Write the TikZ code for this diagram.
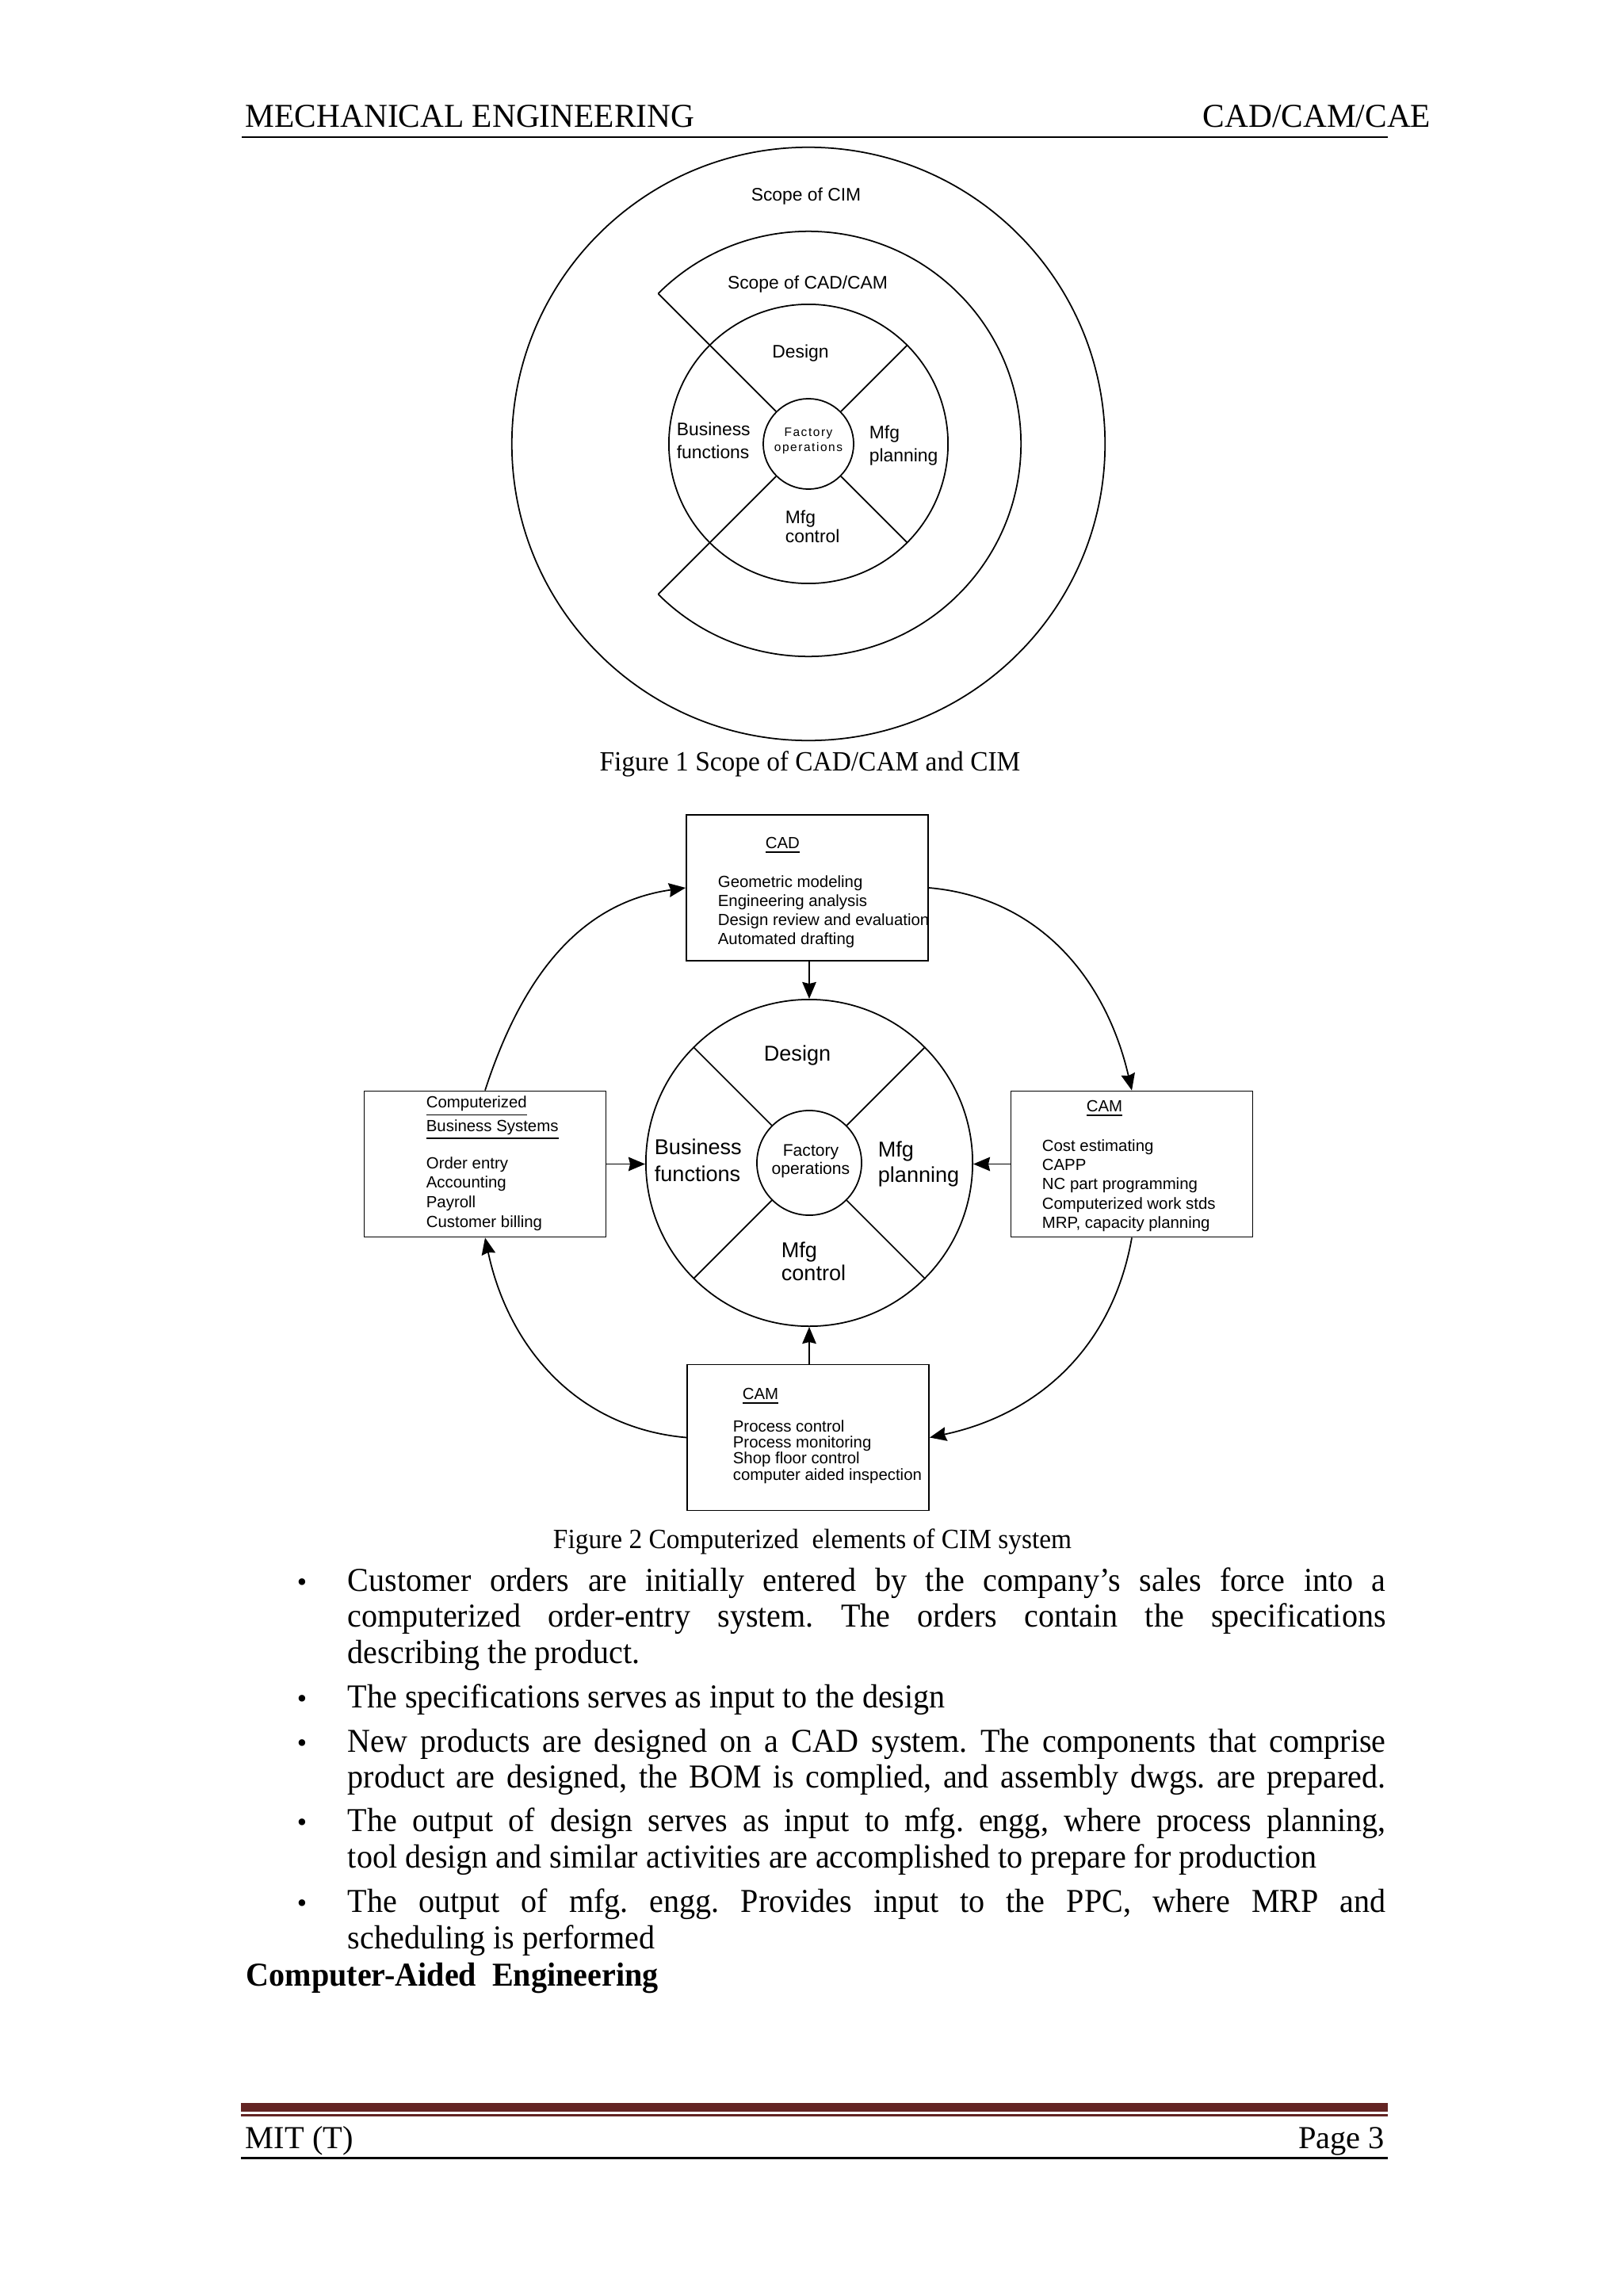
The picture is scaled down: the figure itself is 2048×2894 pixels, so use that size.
\documentclass[tikz,border=0pt]{standalone}
\usepackage{fontspec}
\setmainfont{Liberation Serif}
\setsansfont{Liberation Sans}
\newfontfamily\bodyfont{Liberation Serif}[FakeStretch=0.95]
\newfontfamily\headfont{Liberation Serif}[FakeStretch=0.98]
\newfontfamily\spsans{Liberation Sans}[LetterSpace=10]
\usepackage{xcolor}
\usetikzlibrary{arrows.meta, calc}
\definecolor{maroon}{HTML}{632423}

\newcommand{\boxfont}[1]{\sffamily\fontsize{5.8pt}{#1}\selectfont}
\newcommand{\jline}[1]{\makebox[13.09cm][s]{#1}}

\tikzset{
  blk/.style={draw, line width=0.5pt, inner sep=0pt, minimum width=3.05cm, minimum height=1.84cm},
  boxtxt/.style={align=left, inner sep=0pt, anchor=base west},
  seg1/.style={font=\sffamily\fontsize{6.5pt}{8pt}\selectfont, align=left, inner sep=0pt},
  seg2/.style={font=\sffamily\fontsize{7.7pt}{9pt}\selectfont, align=left, inner sep=0pt},
  flow/.style={-{Stealth[length=6pt,width=5pt,inset=0.6pt]}, line width=0.5pt},
  body/.style={font=\bodyfont\fontsize{12pt}{14pt}\selectfont, inner sep=0pt, anchor=base west},
  capt/.style={font=\bodyfont\fontsize{10pt}{12pt}\selectfont, inner sep=0pt, anchor=base},
  dot/.style={font=\fontsize{10pt}{12pt}\selectfont, inner sep=0pt, anchor=base},
}

\begin{document}
\frenchspacing
\begin{tikzpicture}[x=0.01cm, y=-0.01cm, line width=0.5pt]
\fill[white] (0,0) rectangle (2048,2894);
\useasboundingbox (0,0) rectangle (2048,2894);

% header
\node[font=\headfont\fontsize{12pt}{14pt}\selectfont, inner sep=0pt, anchor=base west] (hleft) at (309,161) {MECHANICAL ENGINEERING};
\node[font=\headfont\fontsize{12pt}{14pt}\selectfont, inner sep=0pt, anchor=base east] (hright) at (1806,161) {CAD/CAM/CAE};
\draw[line width=0.75pt] (305,173) -- (1751,173);

% figure 1
\coordinate (c1) at (1020,560);
\draw (c1) circle[radius=3.74cm];
\draw (c1) circle[radius=1.76cm];
\draw ([shift={(135:2.68cm)}]c1) arc[start angle=135, end angle=-135, radius=2.68cm];
\node[circle, draw, minimum size=1.14cm, inner sep=0pt] (fo1) at (c1) {};
\draw (fo1.45) -- ([shift={(45:1.76cm)}]c1);
\draw (fo1.-45) -- ([shift={(-45:1.76cm)}]c1);
\draw (fo1.135) -- ([shift={(135:2.68cm)}]c1);
\draw (fo1.-135) -- ([shift={(-135:2.68cm)}]c1);

\node[seg1, anchor=base] (cim) at (1017,254) {Scope of CIM};
\node[seg1, anchor=base] (cadcam) at (1019,364) {Scope of CAD/CAM};
\node[seg1, anchor=base] (dsg1) at (1010,451) {Design};
\node[seg1, anchor=base west] (bus1) at (853,578) {Business\\functions};
\node[seg1, anchor=base west] (mfp1) at (1096,582) {Mfg\\planning};
\node[seg1, anchor=base west] (mfc1) at (990,684) {Mfg\\[-1.2pt]control};
\node[font=\spsans\fontsize{4.4pt}{5.4pt}\selectfont, align=center, inner sep=0pt, anchor=base] (fac1) at (1020,569) {Factory\\operations};

\node[capt] (cap1) at (1022,972) {Figure 1 Scope of CAD/CAM and CIM};

% figure 2
\node[circle, draw, minimum size=4.12cm, inner sep=0pt] (ring) at (1021,1467) {};
\node[circle, draw, minimum size=1.32cm, inner sep=0pt] (fo2) at (ring) {};
\draw (fo2.45) -- (ring.45);
\draw (fo2.135) -- (ring.135);
\draw (fo2.225) -- (ring.225);
\draw (fo2.315) -- (ring.315);

\node[seg2, anchor=base] (dsg2) at (1006,1338) {Design};
\node[seg2, anchor=base west, font=\sffamily\fontsize{7.7pt}{9.4pt}\selectfont] (bus2) at (825,1490) {Business\\functions};
\node[seg2, anchor=base west] (mfp2) at (1107,1491) {Mfg\\planning};
\node[seg2, anchor=base west, font=\sffamily\fontsize{7.7pt}{8pt}\selectfont] (mfc2) at (985,1615) {Mfg\\control};
\node[font=\sffamily\fontsize{6pt}{6.3pt}\selectfont, align=center, inner sep=0pt, anchor=base] (fac2) at (1023,1481) {Factory\\operations};

\node[blk] (cad) at (1018.5,1120) {};
\node[blk] (bus) at (612,1468.5) {};
\node[blk] (camr) at (1428,1468.5) {};
\node[blk] (camb) at (1019.5,1813.5) {};

\node[boxtxt, font=\boxfont{6.9pt}] (cadt) at (965,1070) {\underline{CAD}};
\node[boxtxt, font=\boxfont{6.74pt}] (cadl) at (905,1191) {Geometric modeling\\Engineering analysis\\Design review and evaluation\\Automated drafting};
\node[boxtxt, font=\boxfont{7.1pt}] (bust) at (537,1427) {\underline{Computerized}\\\underline{Business Systems}};
\node[boxtxt, font=\boxfont{6.97pt}] (busl) at (537,1548) {Order entry\\Accounting\\Payroll\\Customer billing};
\node[boxtxt, font=\boxfont{6.9pt}] (camrt) at (1370,1402) {\underline{CAM}};
\node[boxtxt, font=\boxfont{6.83pt}] (camrl) at (1314,1549) {Cost estimating\\CAPP\\NC part programming\\Computerized work stds\\MRP, capacity planning};
\node[boxtxt, font=\boxfont{6.9pt}] (cambt) at (936,1765) {\underline{CAM}};
\node[boxtxt, font=\boxfont{5.78pt}] (cambl) at (924,1867) {Process control\\Process monitoring\\Shop floor control\\computer aided inspection};

\draw[flow] (cad.south -| ring.north) -- (ring.north);
\draw[flow] (camb.north -| ring.south) -- (ring.south);
\draw[flow] (bus.east) -- (bus.east -| ring.west);
\draw[flow] (camr.west) -- (camr.west -| ring.east);
\draw[flow] (bus.north) to[out=72, in=188] (cad.west);
\draw[flow] (cad.east) to[out=-5, in=103] (camr.north);
\draw[flow] (camr.south) to[out=-100, in=12] (camb.east);
\draw[flow] (camb.west) to[out=175, in=-78] (bus.south);

\node[capt] (cap2) at (1025,1953) {Figure 2 Computerized\ \ elements of CIM system};

% text below the figures
\node[dot] (bul1) at (381,2007) {\textbullet};
\node[dot] (bul2) at (381,2154) {\textbullet};
\node[dot] (bul3) at (381,2210) {\textbullet};
\node[dot] (bul4) at (381,2310) {\textbullet};
\node[dot] (bul5) at (381,2412) {\textbullet};

\node[body] (b1a) at (438,2007) {\jline{Customer orders are initially entered by the company’s sales force into a}};
\node[body] (b1b) at (438,2052) {\jline{computerized order-entry system. The orders contain the specifications}};
\node[body] (b1c) at (438,2098) {describing the product.};
\node[body] (b2a) at (438,2154) {The specifications serves as input to the design};
\node[body] (b3a) at (438,2210) {\jline{New products are designed on a CAD system. The components that comprise}};
\node[body] (b3b) at (438,2255) {\jline{product are designed, the BOM is complied, and assembly dwgs. are prepared.}};
\node[body] (b4a) at (438,2310) {\jline{The output of design serves as input to mfg. engg, where process planning,}};
\node[body] (b4b) at (438,2356) {tool design and similar activities are accomplished to prepare for production};
\node[body] (b5a) at (438,2412) {\jline{The output of mfg. engg. Provides input to the PPC, where MRP and}};
\node[body] (b5b) at (438,2458) {scheduling is performed};
\node[body, font=\bodyfont\bfseries\fontsize{12pt}{14pt}\selectfont] (head) at (310,2505) {Computer-Aided\ \ Engineering};

% footer
\fill[maroon] (304,2653) rectangle (1751,2664);
\fill[maroon] (304,2667) rectangle (1751,2669.5);
\fill[black] (304,2720.5) rectangle (1751,2723.5);
\node[font=\fontsize{11.5pt}{13pt}\selectfont, inner sep=0pt, anchor=base west] (fleft) at (309,2710) {MIT (T)};
\node[font=\fontsize{11.5pt}{13pt}\selectfont, inner sep=0pt, anchor=base east] (fright) at (1748,2710) {Page 3};
\end{tikzpicture}
\end{document}
